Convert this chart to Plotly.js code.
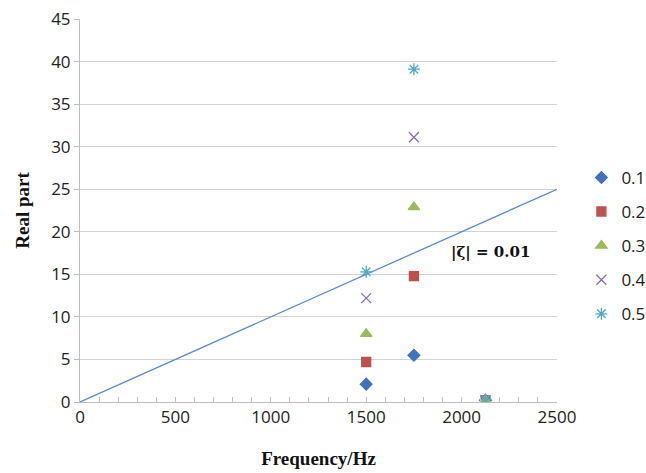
<!DOCTYPE html>
<html><head><meta charset="utf-8">
<script src="https://cdn.plot.ly/plotly-3.0.1.min.js"></script>
<style>body{margin:0;background:#fff}#c{width:646px;height:473px}</style>
</head><body><div id="c"></div>
<script>
const freqs = [1500, 1750, 2125];
const seriesNames = ['0.1', '0.2', '0.3', '0.4', '0.5'];
const s01 = [2.1, 5.5, 0.2];
const s02 = [4.7, 14.8, 0.2];
const s03 = [8.0, 22.9, 0.2];
const s04 = [12.2, 31.1, 0.2];
const s05 = [15.3, 39.1, 0.3];
const lineX = [0, 2500];
const lineY = [0, 25];
const annText = '|ζ| = 0.01';

const colors = ['#3F73C0', '#C0504D', '#9BBB59', '#8A6FB5', '#4BACC6'];
const symbols = ['diamond', 'square', 'triangle-up', 'x-thin-open', 'asterisk-open'];
const sizes = [9, 9, 10, 10, 10];
const vals = [s01, s02, s03, s04, s05];

const traces = [{
  x: lineX, y: lineY, mode: 'lines', showlegend: false,
  line: {color: '#5B8BD0', width: 1.3}, hoverinfo: 'skip'
}];
vals.forEach((v, i) => traces.push({
  x: freqs, y: v, mode: 'markers', name: seriesNames[i], legendgroup: 'g' + i,
  marker: {symbol: symbols[i], color: colors[i], size: sizes[i], line: {color: colors[i], width: 1.3}}
}));

const layout = {
  width: 646, height: 473,
  margin: {l: 80, r: 89, t: 19, b: 71},
  paper_bgcolor: '#fff', plot_bgcolor: '#fff',
  font: {family: 'Open Sans, sans-serif', size: 17, color: '#222'},
  xaxis: {
    range: [0, 2500], dtick: 500, tick0: 0,
    showgrid: false, zeroline: false,
    showline: true, linecolor: '#bfbfbf', linewidth: 1,
    ticks: 'inside', ticklen: 5, tickcolor: '#bfbfbf',
    minor: {dtick: 100, ticks: 'inside', ticklen: 5, tickcolor: '#bfbfbf', showgrid: false},
    tickfont: {size: 17, color: '#222'},
    automargin: false,
    title: {text: 'Frequency/Hz', font: {family: 'Liberation Serif, serif', size: 19, color: '#111', weight: 'bold'}, standoff: 24}
  },
  yaxis: {
    range: [0, 45], dtick: 5, tick0: 0,
    showgrid: true, gridcolor: '#d4d4d4', gridwidth: 1,
    zeroline: false,
    showline: true, linecolor: '#bfbfbf', linewidth: 1,
    ticks: 'outside', ticklen: 5, tickcolor: '#bfbfbf',
    tickfont: {size: 17, color: '#222'},
    automargin: false,
    title: {text: 'Real part', font: {family: 'Liberation Serif, serif', size: 19, color: '#111', weight: 'bold'}, standoff: 16}
  },
  legend: {
    xref: 'container', yref: 'container',
    x: 0.900, y: 0.662, xanchor: 'left', yanchor: 'top',
    traceorder: 'grouped', tracegroupgap: 9,
    font: {size: 17, color: '#222'}, itemwidth: 30, bgcolor: 'rgba(0,0,0,0)'
  },
  annotations: [{
    x: 2150, y: 17.6, xref: 'x', yref: 'y', text: annText, showarrow: false,
    font: {family: 'DejaVu Serif, serif', size: 15, color: '#111', weight: 'bold'}
  }]
};
Plotly.newPlot('c', traces, layout, {displayModeBar: false, staticPlot: true});
</script></body></html>
